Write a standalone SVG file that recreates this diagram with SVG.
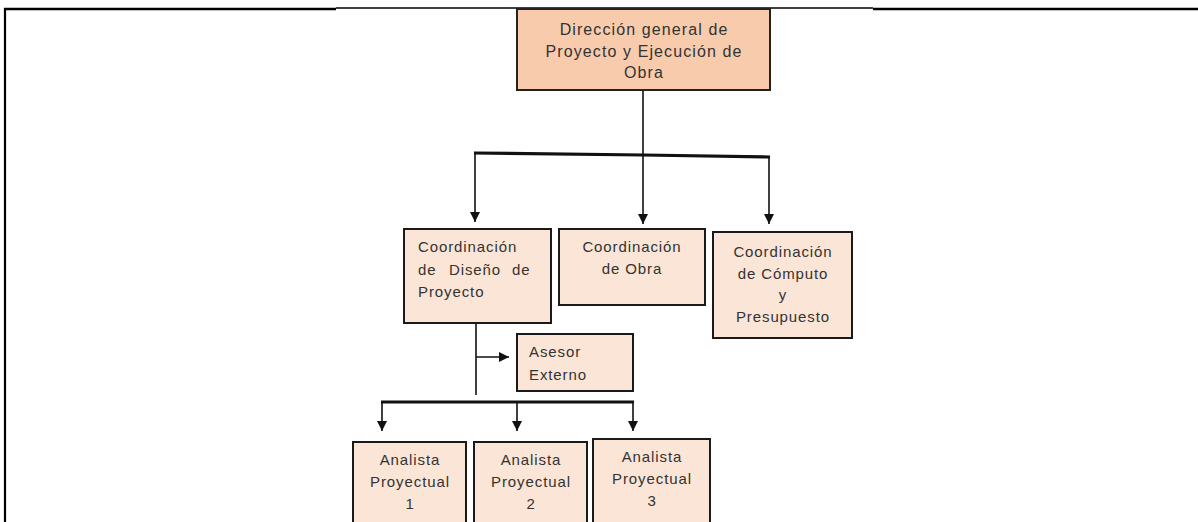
<svg xmlns="http://www.w3.org/2000/svg" width="1198" height="522" viewBox="0 0 1198 522">
  <defs>
    <marker id="arrow" markerUnits="userSpaceOnUse" markerWidth="10" markerHeight="10" refX="10" refY="5" orient="auto">
      <path d="M0,0 L10,5 L0,10 z" fill="#111"/>
    </marker>
    <style>
      .lbl { font-family: "Liberation Sans", Arial, sans-serif; font-size: 15px; letter-spacing: 0.9px; fill: #333; }
      .top { font-size: 16px; letter-spacing: 1.1px; }
      .mid { text-anchor: middle; }
      .boxTop { fill: #F8CBAD; stroke: #222; stroke-width: 2; }
      .box { fill: #FBE5D6; stroke: #1a1a1a; stroke-width: 2; }
      .wire { fill: none; stroke: #111; stroke-width: 1.6; }
      .bus { fill: none; stroke: #111; stroke-width: 3.2; }
      .frame { fill: none; stroke: #000; }
    </style>
  </defs>

  <!-- page frame -->
  <g id="frame">
    <line class="frame" x1="4" y1="9" x2="336" y2="9" stroke-width="2.6"/>
    <line class="frame" x1="336" y1="8" x2="873" y2="8" stroke-width="1.5"/>
    <line class="frame" x1="873" y1="9" x2="1198" y2="9" stroke-width="2.6"/>
    <line class="frame" x1="5" y1="8" x2="5" y2="522" stroke-width="2.2"/>
  </g>

  <!-- connectors -->
  <g id="connectors">
    <line class="wire" x1="643" y1="90" x2="643" y2="155"/>
    <polyline class="bus" points="474,153 643,155 770,157"/>
    <line class="wire" x1="475" y1="153" x2="475" y2="222" marker-end="url(#arrow)"/>
    <line class="wire" x1="643" y1="155" x2="643" y2="224" marker-end="url(#arrow)"/>
    <line class="wire" x1="769" y1="157" x2="769" y2="224" marker-end="url(#arrow)"/>

    <line class="wire" x1="476" y1="323" x2="476" y2="395"/>
    <line class="wire" x1="476" y1="357" x2="509" y2="357" marker-end="url(#arrow)"/>

    <line class="bus" x1="381" y1="402" x2="634" y2="402"/>
    <line class="wire" x1="382" y1="402" x2="382" y2="431" marker-end="url(#arrow)"/>
    <line class="wire" x1="517" y1="402" x2="517" y2="431" marker-end="url(#arrow)"/>
    <line class="wire" x1="633" y1="402" x2="633" y2="431" marker-end="url(#arrow)"/>
  </g>

  <g id="direccion">
    <rect class="boxTop" x="517" y="9" width="253" height="81"/>
    <text class="lbl top mid" x="644" y="35">Dirección general de</text>
    <text class="lbl top mid" x="644" y="57">Proyecto y Ejecución de</text>
    <text class="lbl top mid" x="644" y="78">Obra</text>
  </g>

  <g id="coord-diseno">
    <rect class="box" x="404" y="229" width="147" height="94"/>
    <text class="lbl" x="418" y="252">Coordinación</text>
    <text class="lbl" y="275"><tspan x="418">de</tspan><tspan x="449">Diseño</tspan><tspan x="512">de</tspan></text>
    <text class="lbl" x="418" y="297">Proyecto</text>
  </g>

  <g id="coord-obra">
    <rect class="box" x="559" y="229" width="146" height="76"/>
    <text class="lbl mid" x="632" y="252">Coordinación</text>
    <text class="lbl mid" x="632" y="274">de Obra</text>
  </g>

  <g id="coord-computo">
    <rect class="box" x="713" y="232" width="139" height="106"/>
    <text class="lbl mid" x="783" y="257">Coordinación</text>
    <text class="lbl mid" x="783" y="279">de Cómputo</text>
    <text class="lbl mid" x="783" y="300">y</text>
    <text class="lbl mid" x="783" y="322">Presupuesto</text>
  </g>

  <g id="asesor">
    <rect class="box" x="517" y="334" width="116" height="57"/>
    <text class="lbl" x="529" y="357">Asesor</text>
    <text class="lbl" x="529" y="380">Externo</text>
  </g>

  <g id="analista-1">
    <rect class="box" x="353" y="442" width="113" height="90"/>
    <text class="lbl mid" x="410" y="465">Analista</text>
    <text class="lbl mid" x="410" y="487">Proyectual</text>
    <text class="lbl mid" x="410" y="509">1</text>
  </g>

  <g id="analista-2">
    <rect class="box" x="474" y="442" width="113" height="90"/>
    <text class="lbl mid" x="531" y="465">Analista</text>
    <text class="lbl mid" x="531" y="487">Proyectual</text>
    <text class="lbl mid" x="531" y="509">2</text>
  </g>

  <g id="analista-3">
    <rect class="box" x="593" y="439" width="117" height="93"/>
    <text class="lbl mid" x="652" y="462">Analista</text>
    <text class="lbl mid" x="652" y="484">Proyectual</text>
    <text class="lbl mid" x="652" y="506">3</text>
  </g>
</svg>
